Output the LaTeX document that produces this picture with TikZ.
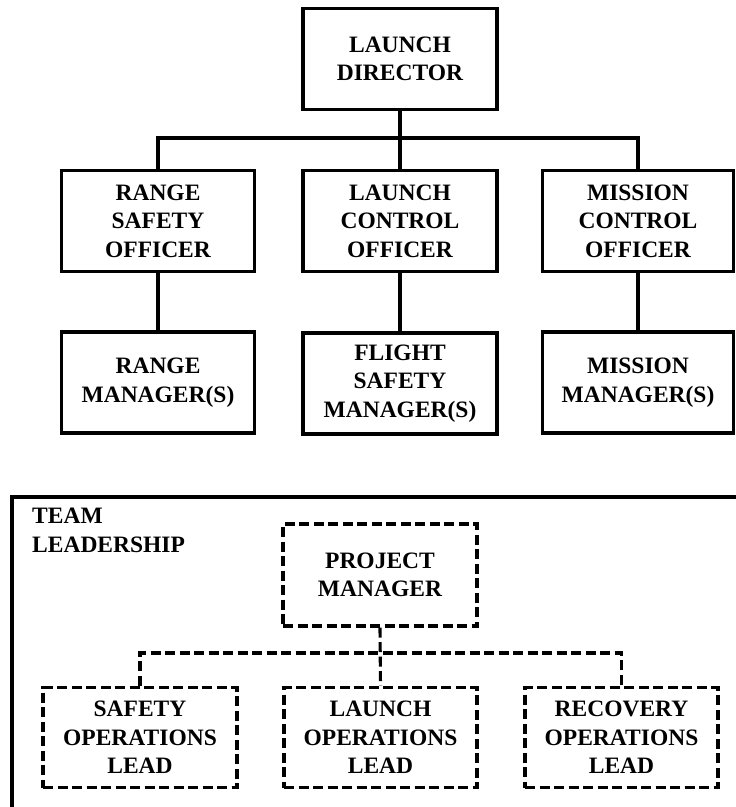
\documentclass[tikz,border=0pt]{standalone}
\usepackage{fontspec}
\setmainfont{Liberation Serif}
\begin{document}
\begin{tikzpicture}[x=1pt,y=-1pt,
  lbl/.style={font=\fontsize{23.5}{28.5}\selectfont\bfseries, align=center, inner sep=0pt},
  solidbox/.style={lbl, draw, line width=3.3pt, minimum width=193pt, minimum height=101pt},
  dashbox/.style={lbl, draw, line width=3.1pt, dash pattern=on 10pt off 4.5pt, minimum width=193pt, minimum height=100pt},
  solidlink/.style={line width=3.3pt},
  dashlink/.style={line width=3.1pt, dash pattern=on 10pt off 4.5pt}]
\useasboundingbox (0,0) rectangle (736,807);
\fill[white] (0,0) rectangle (736,807);

% upper chart
\node[solidbox, minimum width=194pt] (ld) at (400,59) {LAUNCH\\DIRECTOR};
\node[solidbox] (rso) at (158,221) {RANGE\\SAFETY\\OFFICER};
\node[solidbox, minimum width=194pt] (lco) at (400,221) {LAUNCH\\CONTROL\\OFFICER};
\node[solidbox, minimum width=191pt] (mco) at (638,221) {MISSION\\CONTROL\\OFFICER};
\node[solidbox] (rm) at (158,382.5) {RANGE\\MANAGER(S)};
\node[solidbox, minimum width=194pt] (fsm) at (400,383.5) {FLIGHT\\SAFETY\\MANAGER(S)};
\node[solidbox, minimum width=191pt] (mm) at (638,382.5) {MISSION\\MANAGER(S)};

\draw[solidlink] (ld.south) -- (lco.north);
\draw[solidlink] (rso.north) -- ++(0,-31) -| (mco.north);
\draw[solidlink] (rso.south) -- (rm.north);
\draw[solidlink] (lco.south) -- (fsm.north);
\draw[solidlink] (mco.south) -- (mm.north);

% team leadership frame
\draw[line width=4pt] (12,840) -- (12,497) -- (760,497);
\node[lbl, align=left, anchor=north west] (tl) at (32,508) {TEAM\\LEADERSHIP};

\node[dashbox, minimum width=194pt, minimum height=102pt] (pm) at (380,575) {PROJECT\\MANAGER};
\node[dashbox, minimum width=194pt] (sol) at (140,737.5) {SAFETY\\OPERATIONS\\LEAD};
\node[dashbox] (lol) at (380.5,737.5) {LAUNCH\\OPERATIONS\\LEAD};
\node[dashbox] (rol) at (621.5,737.5) {RECOVERY\\OPERATIONS\\LEAD};

\draw[dashlink] (pm.south) -- (lol.north);
\draw[dashlink] (sol.north) -- ++(0,-33) -| (rol.north);
\end{tikzpicture}
\end{document}
